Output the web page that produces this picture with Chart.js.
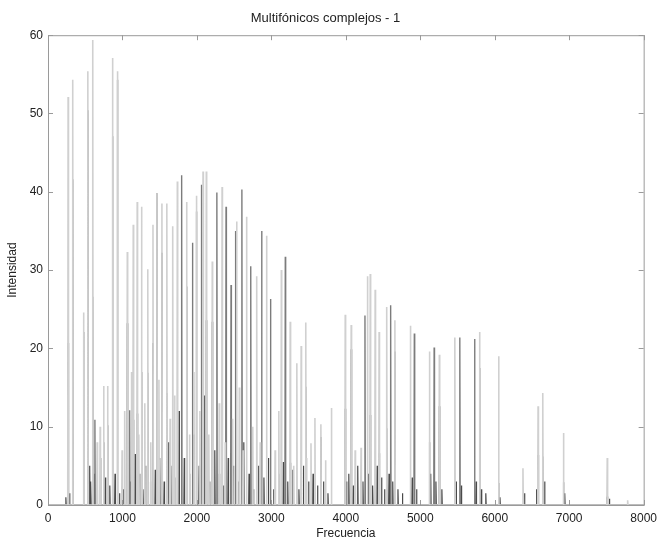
<!DOCTYPE html>
<html>
<head>
<meta charset="utf-8">
<script src="https://cdn.jsdelivr.net/npm/chart.js@4"></script>
<style>
  html, body { margin: 0; padding: 0; background: #fff; }
  #wrap { width: 663px; height: 542px; }
</style>
</head>
<body>
<div id="wrap"><canvas id="myChart"></canvas></div>
<script>
// main spectrum (light gray) - peak frequency / intensity
var grayFreq = [270, 332, 477, 535, 601, 660, 700, 747, 800, 866,
  932, 995, 1030, 1065, 1120, 1145, 1198, 1220, 1256, 1300,
  1340, 1380, 1410, 1463, 1490, 1530, 1596, 1640, 1675, 1700,
  1737, 1861, 1900, 1960, 1993, 2040, 2082, 2126, 2160, 2206,
  2300, 2338, 2380, 2480, 2533, 2570, 2620, 2666, 2750, 2803,
  2850, 2935, 3050, 3100, 3134, 3253, 3300, 3342, 3400, 3462,
  3470, 3532, 3585, 3665, 3727, 3806, 3992, 4072, 4125, 4204,
  4290, 4328, 4394, 4447, 4549, 4659, 4867, 5123, 5256, 5464,
  5796, 6052, 6379, 6582, 6645, 6923, 7511, 7785];
var grayVals = [52.1, 54.3, 24.6, 55.4, 59.4, 8, 10, 15.2, 15.2, 57.1,
  55.4, 7, 12, 32.3, 17, 35.8, 38.7, 9, 38.1, 13,
  30.1, 8, 35.8, 39.8, 16, 38.5, 38.5, 11, 35.6, 14,
  41.3, 38.7, 9, 17, 39.5, 12, 42.6, 42.6, 9, 31.1,
  13, 40.6, 8, 11, 36.2, 15, 7, 36.8, 10, 29.2,
  8, 34.4, 7, 12, 30.0, 23.4, 5, 18.1, 20.3, 23.3,
  6, 7.9, 11.1, 10.3, 5.7, 12.4, 24.3, 23.0, 7, 7.3,
  29.2, 29.5, 27.5, 22.1, 25.3, 23.6, 22.9, 19.6, 19.2, 21.4,
  22.1, 19.0, 4.7, 12.6, 14.3, 9.2, 6.0, 0.6];

// second spectrum (dark gray)
var darkFreq = [270, 332, 477, 535, 601, 630, 747, 800, 866, 932,
  1065, 1097, 1145, 1198, 1256, 1340, 1410, 1463, 1530, 1596,
  1795, 1861, 1940, 1993, 2060, 2126, 2206, 2268, 2391, 2458,
  2520, 2604, 2723, 2869, 2988, 3187, 3253, 3462, 3665, 3992,
  4072, 4257, 4328, 4447, 4549, 4602, 4659, 4920, 5123, 5186,
  5256, 5531, 5729, 5796, 6052, 6582, 6645, 6923, 7511];
var darkVals = [20.7, 41.6, 22.1, 50.4, 26.6, 10.9, 8, 10.2, 47.1, 54.3,
  23.2, 12.1, 10.9, 11.7, 17, 16.9, 20.7, 39.8, 32.2, 14.3,
  42.1, 27.9, 33.5, 37.5, 40.9, 23.6, 23.4, 39.9, 38.1, 28.1,
  35.0, 40.3, 30.5, 35.0, 26.3, 31.7, 5.4, 15.1, 8.7, 12.3,
  19.9, 24.2, 11.5, 6.6, 9.8, 25.5, 19.6, 21.9, 8.0, 20.1,
  12.6, 21.4, 21.2, 17.5, 2.8, 6.4, 6.2, 2.9, 1.1];

// low-level residue between partials
var floorFreq = [240, 290, 560, 575, 620, 690, 705, 770, 830, 900,
  960, 1010, 1110, 1170, 1230, 1290, 1310, 1375, 1440, 1500,
  1560, 1620, 1650, 1700, 1760, 1830, 1900, 1960, 2030, 2100,
  2170, 2240, 2300, 2360, 2420, 2490, 2560, 2630, 2700, 2760,
  2830, 2900, 2960, 3030, 3100, 3160, 3220, 3290, 3370, 3430,
  3500, 3560, 3620, 3700, 3760, 4010, 4040, 4100, 4160, 4230,
  4300, 4360, 4420, 4480, 4520, 4580, 4630, 4700, 4760, 4890,
  4950, 5140, 5210, 5290, 5480, 5550, 5750, 5820, 5880, 6070,
  6400, 6560, 6670, 6940, 7500, 7540];
var floorVals = [1, 1.5, 5, 3, 4, 2, 6, 3.5, 2.5, 4,
  1.5, 2, 3, 6.5, 4, 2, 5, 3, 4.5, 6,
  3, 8, 5, 3.5, 12, 6, 4, 9, 5, 14,
  3, 7, 4, 2.5, 6, 5, 3, 8, 4, 2,
  5, 3.5, 6, 2, 4, 5.5, 3, 4.5, 2, 5,
  3, 4, 2.5, 3, 1.5, 3, 4, 2.5, 5, 3,
  4, 2.5, 5, 3.5, 2, 4, 3, 2, 1.5, 3.5,
  2, 4, 3, 2, 3, 2.5, 3, 2, 1.5, 1,
  1.5, 2, 3, 1.5, 1, 0.8];

var xTicks = [0, 1000, 2000, 3000, 4000, 5000, 6000, 7000, 8000];
var yTicks = [0, 10, 20, 30, 40, 50, 60];

// turn each peak into a narrow spike sitting on zero
function spikes(freqs, vals) {
  var idx = freqs.map(function(f, i) { return i; });
  idx.sort(function(a, b) { return freqs[a] - freqs[b]; });
  var pts = [{x: 0, y: 0}];
  idx.forEach(function(i) {
    pts.push({x: freqs[i] - 5, y: 0});
    pts.push({x: freqs[i], y: vals[i]});
    pts.push({x: freqs[i] + 5, y: 0});
  });
  pts.push({x: 8000, y: 0});
  return pts;
}

// matlab style box with inward ticks
var boxTicks = {
  id: 'boxTicks',
  afterDraw: function(chart) {
    var ctx = chart.ctx, a = chart.chartArea;
    var xs = chart.scales.x, ys = chart.scales.y;
    ctx.save();
    ctx.strokeStyle = '#9a9a9a';
    ctx.lineWidth = 1;
    ctx.strokeRect(a.left + 0.5, a.top + 0.5, a.right - a.left, a.bottom - a.top);
    ctx.beginPath();
    xTicks.forEach(function(v) {
      var px = Math.round(xs.getPixelForValue(v)) + 0.5;
      ctx.moveTo(px, a.bottom); ctx.lineTo(px, a.bottom - 5);
      ctx.moveTo(px, a.top); ctx.lineTo(px, a.top + 5);
    });
    yTicks.forEach(function(v) {
      var py = Math.round(ys.getPixelForValue(v)) + 0.5;
      ctx.moveTo(a.left, py); ctx.lineTo(a.left + 5, py);
      ctx.moveTo(a.right, py); ctx.lineTo(a.right - 5, py);
    });
    ctx.stroke();
    ctx.restore();
  }
};

var ctx = document.getElementById('myChart').getContext('2d');
var myChart = new Chart(ctx, {
  type: 'line',
  data: {
    datasets: [{
      label: 'espectro 1',
      data: spikes(grayFreq, grayVals),
      borderColor: '#d0d0d0',
      borderWidth: 1.6
    }, {
      label: 'espectro 2',
      data: spikes(darkFreq, darkVals),
      borderColor: '#7c7c7c',
      borderWidth: 1.4
    }, {
      label: 'residuo',
      data: spikes(floorFreq, floorVals),
      borderColor: '#4a4a4a',
      borderWidth: 1.2
    }]
  },
  options: {
    responsive: true,
    maintainAspectRatio: false,
    animation: false,
    elements: { point: { radius: 0 }, line: { tension: 0 } },
    layout: { padding: { left: 0, right: 12, top: 0, bottom: 0 } },
    plugins: {
      legend: { display: false },
      tooltip: { enabled: false },
      title: {
        display: true,
        text: 'Multifónicos complejos - 1',
        color: '#222',
        font: { family: 'Liberation Sans', size: 13, weight: 'normal' },
        padding: { top: 11, bottom: 8.6 }
      }
    },
    scales: {
      x: {
        type: 'linear',
        min: 0,
        max: 8000,
        afterFit: function(scale) { scale.height = 37; },
        afterBuildTicks: function(scale) {
          scale.ticks = xTicks.map(function(v) { return {value: v}; });
        },
        grid: { display: false, drawTicks: false },
        border: { display: false },
        ticks: {
          color: '#222',
          padding: 6,
          maxRotation: 0,
          font: { family: 'Liberation Sans', size: 12 },
          callback: function(v) { return String(v); }
        },
        title: {
          display: true,
          text: 'Frecuencia',
          color: '#222',
          padding: { top: 0, bottom: 1 },
          font: { family: 'Liberation Sans', size: 12 }
        }
      },
      y: {
        min: 0,
        max: 60,
        afterFit: function(scale) { scale.width = 48; },
        afterBuildTicks: function(scale) {
          scale.ticks = yTicks.map(function(v) { return {value: v}; });
        },
        grid: { display: false, drawTicks: false },
        border: { display: false },
        ticks: {
          color: '#222',
          padding: 5,
          font: { family: 'Liberation Sans', size: 12 }
        },
        title: {
          display: true,
          text: 'Intensidad',
          color: '#222',
          padding: { top: 5, bottom: 0 },
          font: { family: 'Liberation Sans', size: 12 }
        }
      }
    }
  },
  plugins: [boxTicks]
});
</script>
</body>
</html>
